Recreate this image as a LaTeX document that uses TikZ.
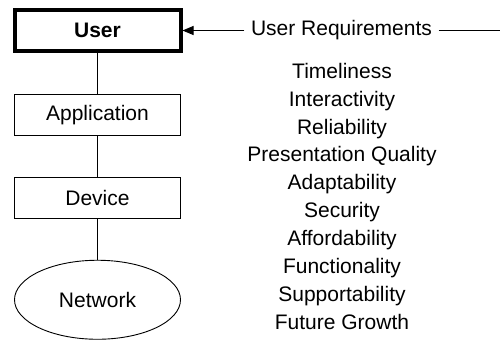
\documentclass[tikz,border=0pt]{standalone}
\usepackage{fontspec}
\setmainfont{Liberation Sans}
\usepackage{tikz}
\usetikzlibrary{positioning,arrows.meta,shapes.geometric}

\begin{document}
\begin{tikzpicture}[
    x=1pt, y=-1pt,
    node distance=41pt,
    layer/.style={
        rectangle,
        minimum width=166pt,
        minimum height=41pt,
        inner sep=0pt,
        draw=black,
        line width=0.9pt,
        font=\fontsize{21}{25}\selectfont
    },
    netnode/.style={
        ellipse,
        minimum width=166pt,
        minimum height=79pt,
        inner sep=0pt,
        draw=black,
        line width=0.9pt,
        font=\fontsize{21}{25}\selectfont
    },
    heading/.style={
        inner xsep=6.5pt,
        inner ysep=0pt,
        font=\fontsize{21}{25}\selectfont
    },
    req/.style={
        anchor=base,
        inner sep=0pt,
        font=\fontsize{21}{25}\selectfont
    },
    link/.style={
        line width=0.9pt
    },
    arrow/.style={
        -{Triangle[length=11pt,width=9pt]},
        line width=0.9pt
    }
]

\useasboundingbox (0,0) rectangle (502,341);

\node[layer,line width=4pt,font=\fontsize{21}{25}\selectfont\bfseries] (user) at (97.5,30.5) {User};
\node[layer,below=of user] (app) {Application};
\node[layer,below=of app] (dev) {Device};
\node[netnode,below=of dev] (net) {Network};

\draw[link] (user) -- (app);
\draw[link] (app) -- (dev);
\draw[link] (dev) -- (net);

\node[heading] (reqs) at (341.5,30.5) {User Requirements};
\coordinate (reqend) at (500,30.5);
\draw[arrow] (reqs.west) -- (user.east);
\draw[link] (reqs.east) -- (reqend);

\node[req] (r1) at (342,78.3) {Timeliness};
\node[below=27.86pt of r1.base,req] (r2) {Interactivity};
\node[below=27.86pt of r2.base,req] (r3) {Reliability};
\node[below=27.86pt of r3.base,req] (r4) {Presentation Quality};
\node[below=27.86pt of r4.base,req] (r5) {Adaptability};
\node[below=27.86pt of r5.base,req] (r6) {Security};
\node[below=27.86pt of r6.base,req] (r7) {Affordability};
\node[below=27.86pt of r7.base,req] (r8) {Functionality};
\node[below=27.86pt of r8.base,req] (r9) {Supportability};
\node[below=27.86pt of r9.base,req] (r10) {Future Growth};

\end{tikzpicture}
\end{document}
